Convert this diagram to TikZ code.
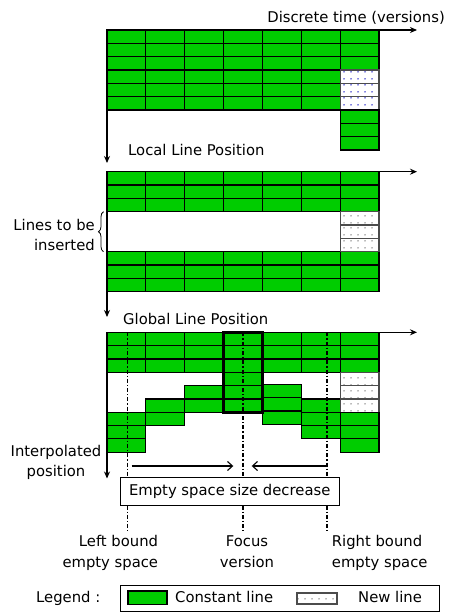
\documentclass[tikz,border=0pt]{standalone}
\usepackage{fontspec}
\setmainfont{DejaVu Sans}
\usepackage{tikz}
\usetikzlibrary{arrows.meta,patterns.meta,decorations.pathreplacing,positioning}
\definecolor{cgreen}{RGB}{0,204,0}
\newcommand{\gcell}[4]{\draw[#1] ({107+38.86*#2},{#3+13.33*#4}) rectangle ++(38.86,13.33);}
\tikzset{
  every picture/.style = {
    x = 1pt,
    y = -1pt,
    font = \fontsize{14.8}{20.5}\selectfont
  }
  ,
  cell-const/.style = {
    draw = black,
    fill = cgreen,
    line width = 1.1pt
  }
  , % lines added in this version
  cell-new/.style = {
    draw = black!70,
    line width = 1.1pt,
    pattern = {Dots[distance=6.5pt, radius=0.8pt]},
    pattern color = black!55
  }
  ,
  cell-newblue/.style = {
    cell-new,
    pattern color = blue!75!black
  }
  ,
  axis-arrow/.style = {
    -{Stealth[length=7pt, width=6pt]},
    line width = 1.3pt
  }
  ,
  bound-line/.style = {
    line width = 1.3pt,
    dash pattern = on 4pt off 2pt on 1.3pt off 2pt
  }
  ,
  span-arrow/.style = {
    -{Straight Barb[length=5pt, width=9pt]},
    line width = 1.1pt
  }
  ,
  focus-box/.style = {
    draw,
    line width = 2.6pt
  }
  , % plain text labels
  txt/.style = {
    inner sep = 0pt
  }
}

\begin{document}
\begin{tikzpicture}
  \useasboundingbox (0,0) rectangle (457,612);

  % local line position
  \foreach \c in {0,...,6} \foreach \r in {0,1,2} {\gcell{cell-const}{\c}{30}{\r}}
  \foreach \c in {0,...,5} \foreach \r in {3,4,5} {\gcell{cell-const}{\c}{30}{\r}}
  \foreach \r in {3,4,5} {\gcell{cell-newblue}{6}{30}{\r}}
  \foreach \r in {6,7,8} {\gcell{cell-const}{6}{30}{\r}}
  \coordinate (o1) at (107,30);
  \coordinate (t1) at (417,30);
  \coordinate (l1) at (107,163);
  \draw[axis-arrow] (o1) -- (t1);
  \draw[axis-arrow] (o1) -- (l1);
  \node[txt, anchor=base east] (time) at (445,22.5) {Discrete time (versions)};
  \node[txt, anchor=base west] (local) at (128,156) {Local Line Position};

  % lines to be inserted
  \foreach \c in {0,...,6} \foreach \r in {0,1,2,6,7,8} {\gcell{cell-const}{\c}{171.7}{\r}}
  \foreach \r in {3,4,5} {\gcell{cell-new}{6}{171.7}{\r}}
  \coordinate (o2) at (107,171.7);
  \coordinate (t2) at (417,171.7);
  \coordinate (l2) at (107,317);
  \draw[axis-arrow] (o2) -- (t2);
  \draw[axis-arrow] (o2) -- (l2);
  \coordinate (br-a) at (103.5,251.7);
  \coordinate (br-b) at (103.5,211.7);
  \draw[decorate, decoration={brace, amplitude=5pt}, line width=0.8pt] (br-a) -- (br-b);
  \node[txt, anchor=base east, align=right] (ins) at (95,250.7) {Lines to be\\inserted};

  % global line position
  \foreach \c in {0,...,6} \foreach \r in {0,1,2} {\gcell{cell-const}{\c}{332.3}{\r}}
  \foreach \r in {6,7,8} {\gcell{cell-const}{0}{332.3}{\r}}
  \foreach \r in {5,6} {\gcell{cell-const}{1}{332.3}{\r}}
  \foreach \r in {4,5} {\gcell{cell-const}{2}{332.3}{\r}}
  \foreach \r in {3,4,5} {\gcell{cell-const}{3}{332.3}{\r}}
  \foreach \r in {4,5,6} {\gcell{cell-const}{4}{331}{\r}}
  \foreach \r in {5,6,7} {\gcell{cell-const}{5}{332.3}{\r}}
  \foreach \r in {3,4,5} {\gcell{cell-new}{6}{332.3}{\r}}
  \foreach \r in {6,7,8} {\gcell{cell-const}{6}{332.3}{\r}}
  \draw[focus-box] (223.6,332.3) rectangle (262.4,412.3);
  \coordinate (o3) at (107,332.3);
  \coordinate (t3) at (417,332.3);
  \coordinate (l3) at (107,478.5);
  \draw[axis-arrow] (o3) -- (t3);
  \draw[axis-arrow] (o3) -- (l3);
  \node[txt, anchor=base west] (global) at (123,324) {Global Line Position};
  \node[txt, anchor=base, align=center] (interp) at (56,476.7) {Interpolated\\position};

  % empty space bounds
  \node[draw, line width=1pt, minimum width=219pt, minimum height=27.7pt, inner sep=0pt] (dec) at (229.7,491.2) {Empty space size decrease};
  \coordinate (lb) at (127.7,332.3);
  \coordinate (fv) at (243,332.3);
  \coordinate (rb) at (326.9,332.3);
  \coordinate (lb-end) at (127.7,531.7);
  \coordinate (fv-end) at (243,531.7);
  \coordinate (rb-end) at (326.9,531.7);
  \foreach \b in {lb,fv,rb} {
    \draw[bound-line] (\b) -- (\b |- dec.north);
    \draw[bound-line] (\b |- dec.south) -- (\b-end);
  }
  \coordinate (sa-l) at (131.7,466);
  \coordinate (sa-lt) at (233.3,466);
  \coordinate (sa-r) at (326.9,466);
  \coordinate (sa-rt) at (251.7,466);
  \draw[span-arrow] (sa-l) -- (sa-lt);
  \draw[span-arrow] (sa-r) -- (sa-rt);
  \node[txt, anchor=base east, align=right] (left) at (158.3,567.3) {Left bound\\empty space};
  \node[txt, anchor=base, align=center] (focus) at (247,567.3) {Focus\\version};
  \node[txt, anchor=base west, align=left] (right) at (331.7,567.3) {Right bound\\empty space};

  % legend
  \node[txt, anchor=base west] (leg) at (36,602.7) {Legend :};
  \node[draw, line width=1pt, minimum width=319pt, minimum height=26pt, inner sep=0pt] (legbox) at (279.5,598) {};
  \draw[cell-const] (128,591) rectangle (167,604.3);
  \node[txt, anchor=base west] (cst) at (175,602.7) {Constant line};
  \draw[cell-new] (297,593) rectangle (337,604);
  \node[txt, anchor=base west] (new) at (358,602.7) {New line};
\end{tikzpicture}
\end{document}
